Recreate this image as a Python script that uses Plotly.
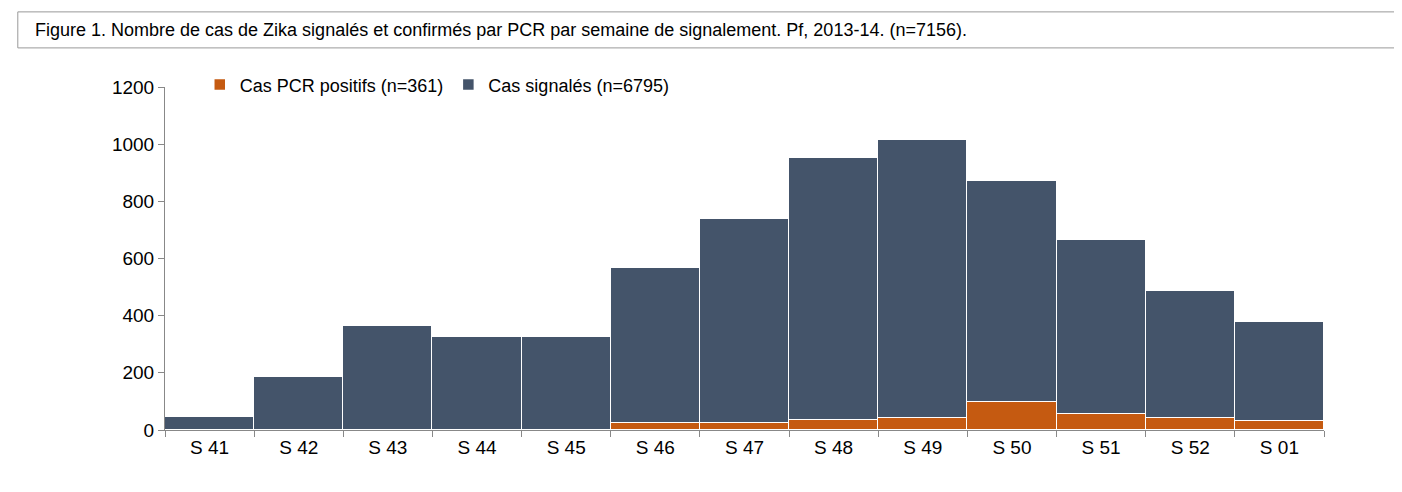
import plotly.graph_objects as go

weeks = ["S 41","S 42","S 43","S 44","S 45","S 46","S 47","S 48","S 49","S 50","S 51","S 52","S 01"]
pcr = [0,0,0,0,0,24,24,35,42,98,56,42,31]
total = [45,185,364,325,325,567,738,951,1014,871,664,486,378]
signales = [t-p for t,p in zip(total,pcr)]

fig = go.Figure()
fig.add_bar(x=weeks, y=pcr, name="Cas PCR positifs (n=361)", marker=dict(color="#C55A11", line=dict(color="white", width=1.5)))
fig.add_bar(x=weeks, y=signales, name="Cas signalés (n=6795)", marker=dict(color="#44546A", line=dict(color="white", width=1.5)))
fig.update_layout(
    barmode="stack", bargap=0, width=1402, height=492, plot_bgcolor="white", paper_bgcolor="white",
    font=dict(family="Liberation Sans, Arial", size=19, color="black"),
    margin=dict(l=157, r=86, t=79, b=70),
    legend=dict(orientation="h", x=0.03, y=1.06, xanchor="left", yanchor="top", font=dict(size=18), itemwidth=30, traceorder="normal"),
    xaxis=dict(showline=True, linecolor="#888", ticks="outside", tickcolor="#888", tickson="boundaries", ticklen=6, tickfont=dict(size=19)),
    yaxis=dict(range=[0,1200], dtick=200, showline=True, linecolor="#888", ticks="outside", tickcolor="#888", ticklen=6, showgrid=False, tickfont=dict(size=19)),
    shapes=[dict(type="rect", xref="paper", yref="paper", x0=-0.127, x1=1.07, y0=1.114, y1=1.219, line=dict(color="#999", width=1))],
    annotations=[dict(text="Figure 1. Nombre de cas de Zika signalés et confirmés par PCR par semaine de signalement. Pf, 2013-14. (n=7156).",
                      xref="paper", yref="paper", x=-0.114, y=1.166, xanchor="left", yanchor="middle", showarrow=False, font=dict(size=18))],
)
fig.write_html("out.html")
